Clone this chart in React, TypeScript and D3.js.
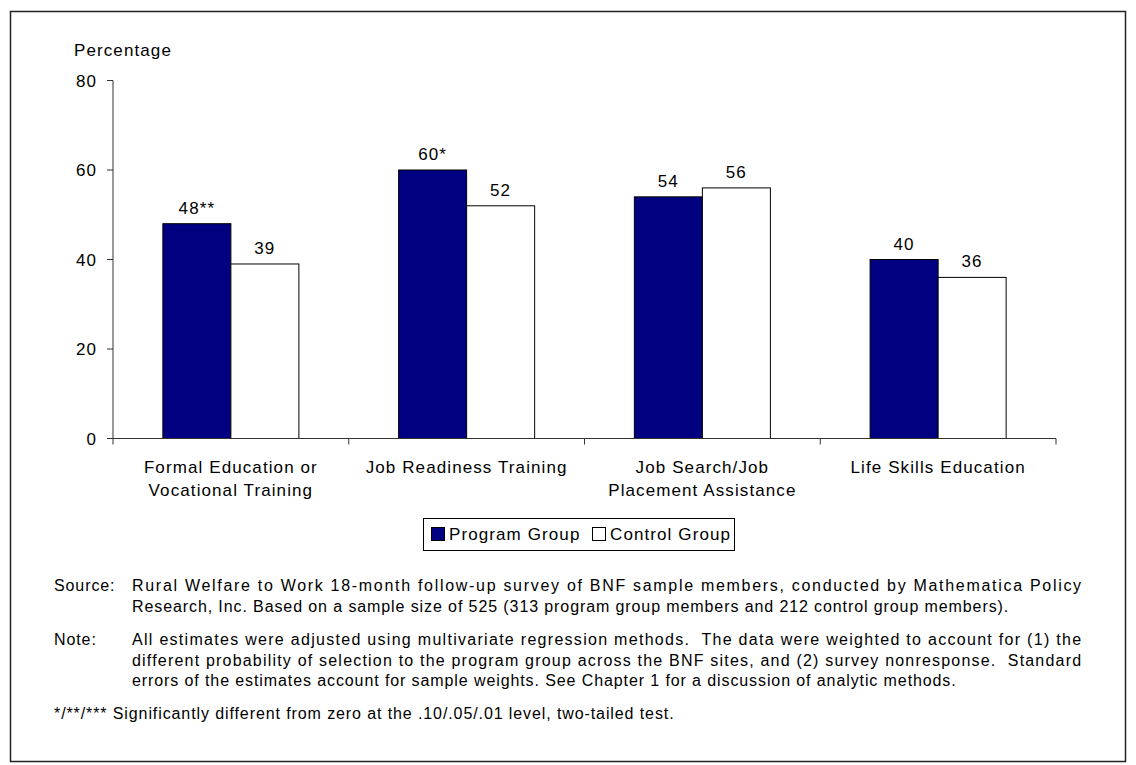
import React from "react";
import * as d3 from "d3";

const categories: string[][] = [
  ["Formal Education or", "Vocational Training"],
  ["Job Readiness Training"],
  ["Job Search/Job", "Placement Assistance"],
  ["Life Skills Education"],
];
const seriesNames = ["Program Group", "Control Group"];
const programValues = [48, 60, 54, 40];
const controlValues = [39, 52, 56, 36];
const programMarks = ["**", "*", "", ""];
const controlMarks = ["", "", "", ""];
const yTicks = [0, 20, 40, 60, 80];

const sourceLines = [
  "Rural Welfare to Work 18-month follow-up survey of BNF sample members, conducted by Mathematica Policy",
  "Research, Inc. Based on a sample size of 525 (313 program group members and 212 control group members).",
];
const noteLines = [
  "All estimates were adjusted using multivariate regression methods.  The data were weighted to account for (1) the",
  "different probability of selection to the program group across the BNF sites, and (2) survey nonresponse.  Standard",
  "errors of the estimates account for sample weights. See Chapter 1 for a discussion of analytic methods.",
];
const footLine = "*/**/*** Significantly different from zero at the .10/.05/.01 level, two-tailed test.";

const W = 1136;
const H = 765;
const FONT = "'Liberation Sans', Arial, Helvetica, sans-serif";
const NAVY = "#000080";

export default function App() {
  const x0 = 113, x1 = 1056;
  const yBase = 438.5, yTop = 80.5;
  const y = d3.scaleLinear().domain([0, 80]).range([yBase, yTop]);
  const idx = categories.map((_, i) => i);
  const xBand = d3.scaleBand<number>().domain(idx).range([x0, x1]).paddingInner(0.423).paddingOuter(0.2115);
  const xSub = d3.scaleBand<number>().domain([0, 1]).range([0, xBand.bandwidth()]).padding(0);
  const step = xBand.step();
  const boundaries = d3.range(categories.length + 1).map((i) => x0 + i * step);
  const series = [programValues, controlValues];
  const marks = [programMarks, controlMarks];
  const fills = [NAVY, "#ffffff"];

  const chartText = { fontFamily: FONT, fontSize: 17, letterSpacing: 1.1, fill: "#000" } as const;
  const noteText = { fontFamily: FONT, fontSize: 16, letterSpacing: 0.9, fill: "#000", style: { whiteSpace: "pre" as const } };
  const lx0 = 54, jl = 132, jr = 1082;
  const srcY = 591, noteY = 645, footY = 719, lh = 20.5;

  return (
    <svg width={W} height={H} style={{ position: "absolute", left: 0, top: 0, background: "#fff" }}>
      <rect x={10.5} y={11.5} width={1115} height={750} fill="#fff" stroke="#222" strokeWidth={1.5} />
      <text x={74} y={56} {...chartText}>Percentage</text>
      <line x1={x0} x2={x0} y1={yTop} y2={yBase} stroke="#333" strokeWidth={1} />
      {yTicks.map((t) => (
        <g key={t}>
          <line x1={x0 - 6} x2={x0} y1={y(t)} y2={y(t)} stroke="#333" />
          <text x={97} y={y(t) + 6} textAnchor="end" {...chartText}>{t}</text>
        </g>
      ))}
      {series.map((vals, s) =>
        vals.map((v, i) => {
          const bx = (xBand(i) as number) + (xSub(s) as number);
          const bw = xSub.bandwidth();
          return (
            <g key={`${s}-${i}`}>
              <rect x={bx} y={y(v)} width={bw} height={yBase - y(v)} fill={fills[s]} stroke="#000" strokeWidth={1} />
              <text x={bx + bw / 2} y={y(v) - 10} textAnchor="middle" {...chartText}>
                {`${v}${marks[s][i]}`}
              </text>
            </g>
          );
        })
      )}
      <line x1={x0} x2={x1} y1={yBase} y2={yBase} stroke="#333" strokeWidth={1.2} />
      {boundaries.map((b, i) => (
        <line key={i} x1={b} x2={b} y1={yBase} y2={yBase + 6} stroke="#333" />
      ))}
      {categories.map((lines, i) => (
        <text key={i} textAnchor="middle" {...chartText}>
          {lines.map((l, k) => (
            <tspan key={k} x={(xBand(i) as number) + xBand.bandwidth() / 2} y={473 + k * 23}>{l}</tspan>
          ))}
        </text>
      ))}
      <rect x={423.5} y={518.5} width={311} height={32} fill="#fff" stroke="#000" strokeWidth={1} />
      {seriesNames.map((n, s) => {
        const lx = s === 0 ? 431 : 592;
        return (
          <g key={n}>
            <rect x={lx + 0.5} y={527.5} width={13} height={13} fill={fills[s]} stroke="#000" />
            <text x={lx + 18} y={540} {...chartText}>{n}</text>
          </g>
        );
      })}
      <text x={lx0} y={srcY} {...noteText}>Source:</text>
      {sourceLines.map((l, k) => (
        <text key={k} x={jl} y={srcY + k * lh} {...noteText}
          {...(k < sourceLines.length - 1 ? { textLength: jr - jl, lengthAdjust: "spacing" } : {})}>{l}</text>
      ))}
      <text x={lx0} y={noteY} {...noteText}>Note:</text>
      {noteLines.map((l, k) => (
        <text key={k} x={jl} y={noteY + k * lh} {...noteText}
          {...(k < noteLines.length - 1 ? { textLength: jr - jl, lengthAdjust: "spacing" } : {})}>{l}</text>
      ))}
      <text x={lx0} y={footY} {...noteText}>{footLine}</text>
    </svg>
  );
}
